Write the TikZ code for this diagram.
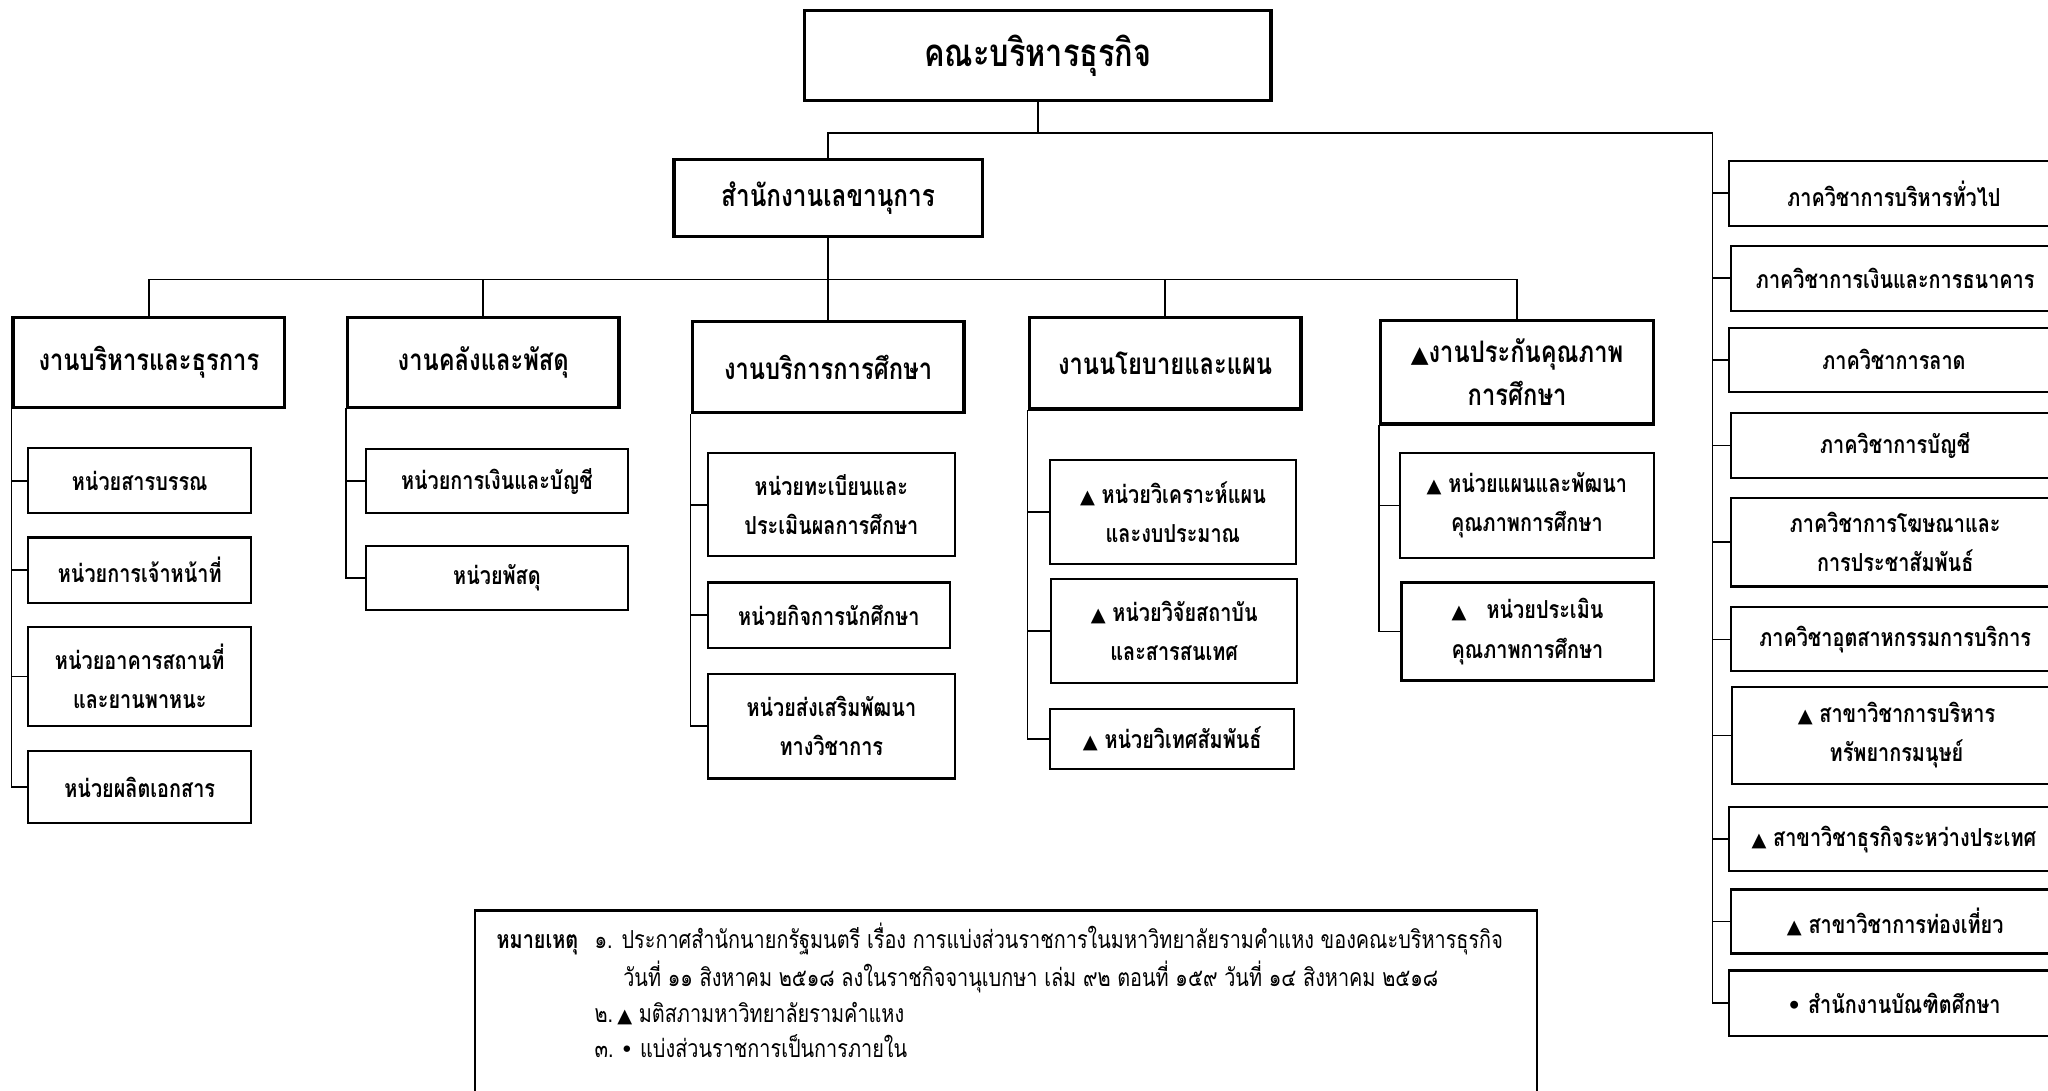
\documentclass[tikz,border=0pt]{standalone}
\usepackage{fontspec}
\usepackage{graphicx}
\setmainfont[Script=Thai,FakeStretch=0.8]{Loma}
\newfontfamily\symf{DejaVu Sans}
\newfontfamily\legf[Script=Thai,FakeStretch=0.8]{Loma}
\newcommand\mytri{{\symf\scalebox{0.78}{▲}}}
\newcommand\mybul{{\symf\scalebox{0.9}{•}}}
\tikzset{
  conn/.style={line width=1.3pt, line cap=rect},
  bigbox/.style={draw, line width=2.6pt, inner sep=0pt, align=center},
  subbox/.style={draw, line width=1.6pt, inner sep=0pt, align=center, font=\bfseries\fontsize{19}{30}\selectfont},
  lvlbox/.style={bigbox, font=\bfseries\fontsize{22.7}{33}\selectfont},
  legtext/.style={inner sep=0pt, anchor=base west, font=\legf\fontsize{19}{28}\selectfont},
}
\begin{document}
\begin{tikzpicture}[x=1pt,y=-1pt]
\useasboundingbox (0,0) rectangle (1568,835);
\clip (0,0) rectangle (1568,835);
% top levels
\node[bigbox, font=\bfseries\fontsize{29.4}{34}\selectfont, minimum width=357, minimum height=69] (top) at (794.5,42.5) {คณะบริหารธุรกิจ};
\node[bigbox, font=\bfseries\fontsize{23.3}{30}\selectfont, minimum width=236, minimum height=59] (sec) at (634,151.5) {สำนักงานเลขานุการ};
% level 2
\node[lvlbox, minimum width=208, minimum height=69] (B1) at (114,277.5) {งานบริหารและธุรการ};
\node[lvlbox, minimum width=208, minimum height=69] (B2) at (370,277.5) {งานคลังและพัสดุ};
\node[lvlbox, minimum width=208, minimum height=70] (B3) at (634,281) {งานบริการการศึกษา};
\node[lvlbox, minimum width=208, minimum height=70] (B4) at (892,278) {งานนโยบายและแผน};
\node[lvlbox, minimum width=209, minimum height=79] (B5) at (1161.5,285) {\mytri งานประกันคุณภาพ\\การศึกษา};
% units
\node[subbox, minimum width=171, minimum height=50] (S1a) at (107,368) {หน่วยสารบรรณ};
\node[subbox, minimum width=171, minimum height=50] (S1b) at (107,436.5) {หน่วยการเจ้าหน้าที่};
\node[subbox, minimum width=171, minimum height=76] (S1c) at (107,518) {หน่วยอาคารสถานที่\\และยานพาหนะ};
\node[subbox, minimum width=171, minimum height=55] (S1d) at (107,602.5) {หน่วยผลิตเอกสาร};
\node[subbox, minimum width=201, minimum height=49] (S2a) at (380.5,368.5) {หน่วยการเงินและบัญชี};
\node[subbox, minimum width=201, minimum height=49] (S2b) at (380.5,442.5) {หน่วยพัสดุ};
\node[subbox, minimum width=189, minimum height=79] (S3a) at (636.5,386.5) {หน่วยทะเบียนและ\\ประเมินผลการศึกษา};
\node[subbox, minimum width=185, minimum height=50] (S3b) at (634.5,471) {หน่วยกิจการนักศึกษา};
\node[subbox, minimum width=189, minimum height=80] (S3c) at (636.5,556) {หน่วยส่งเสริมพัฒนา\\ทางวิชาการ};
\node[subbox, minimum width=188, minimum height=80] (S4a) at (898,392) {\mytri\ หน่วยวิเคราะห์แผน\\และงบประมาณ};
\node[subbox, minimum width=188, minimum height=80] (S4b) at (899,483) {\mytri\ หน่วยวิจัยสถาบัน\\และสารสนเทศ};
\node[subbox, minimum width=187, minimum height=46] (S4c) at (897.5,566) {\mytri\ หน่วยวิเทศสัมพันธ์};
\node[subbox, minimum width=194, minimum height=80] (S5a) at (1169,387) {\mytri\ หน่วยแผนและพัฒนา\\คุณภาพการศึกษา};
\node[subbox, minimum width=193, minimum height=75] (S5b) at (1169.5,483.5) {\mytri\ \ \ หน่วยประเมิน\\คุณภาพการศึกษา};
% right column
\node[subbox, minimum width=252, minimum height=50] (R1) at (1450,148) {ภาควิชาการบริหารทั่วไป};
\node[subbox, minimum width=252, minimum height=50] (R2) at (1451,213) {ภาควิชาการเงินและการธนาคาร};
\node[subbox, minimum width=252, minimum height=49] (R3) at (1450,275.5) {ภาควิชาการลาด};
\node[subbox, minimum width=252, minimum height=50] (R4) at (1451,341) {ภาควิชาการบัญชี};
\node[subbox, minimum width=252, minimum height=68] (R5) at (1451,415) {ภาควิชาการโฆษณาและ\\การประชาสัมพันธ์};
\node[subbox, minimum width=252, minimum height=49] (R6) at (1451,489.5) {ภาควิชาอุตสาหกรรมการบริการ};
\node[subbox, minimum width=252, minimum height=74] (R7) at (1452,563) {\mytri\ สาขาวิชาการบริหาร\\ทรัพยากรมนุษย์};
\node[subbox, minimum width=252, minimum height=49] (R8) at (1450,642.5) {\mytri\ สาขาวิชาธุรกิจระหว่างประเทศ};
\node[subbox, minimum width=252, minimum height=49] (R9) at (1451,705.5) {\mytri\ สาขาวิชาการท่องเที่ยว};
\node[subbox, minimum width=252, minimum height=50] (R10) at (1450,768) {\mybul\ สำนักงานบัณฑิตศึกษา};
% connectors
\coordinate (busA) at (0,102);
\coordinate (busB) at (0,214);
\coordinate (rsp) at (1311,102);
\draw[conn] (top.south) -- (top.south |- busA);
\draw[conn] (sec.north |- busA) -- (rsp) -- (rsp |- R10.west) -- (R10.west);
\draw[conn] (sec.north |- busA) -- (sec.north);
\draw[conn] (sec.south) -- (sec.south |- B3.north);
\draw[conn] (B1.north |- busB) -- (B5.north |- busB);
\foreach \b in {B1,B2,B4,B5} \draw[conn] (\b.north |- busB) -- (\b.north);
\foreach \r in {R1,R2,R3,R4,R5,R6,R7,R8,R9} \draw[conn] (rsp |- \r.west) -- (\r.west);
\draw[conn] (B1.south west) |- (S1d.west);
\foreach \s in {S1a,S1b,S1c} \draw[conn] (B1.south west |- \s.west) -- (\s.west);
\draw[conn] (B2.south west) |- (S2b.west);
\draw[conn] (B2.south west |- S2a.west) -- (S2a.west);
\draw[conn] (B3.south west) |- (S3c.west);
\foreach \s in {S3a,S3b} \draw[conn] (B3.south west |- \s.west) -- (\s.west);
\draw[conn] (B4.south west) |- (S4c.west);
\foreach \s in {S4a,S4b} \draw[conn] (B4.south west |- \s.west) -- (\s.west);
\draw[conn] (B5.south west) |- (S5b.west);
\draw[conn] (B5.south west |- S5a.west) -- (S5a.west);
% legend
\node[draw, line width=1.6pt, minimum width=813, minimum height=170, anchor=north west, inner sep=0pt] (legend) at (363,697) {};
\draw[line width=2.4pt] (legend.north west) -- (legend.north east);
\node[legtext] (n0) at (380,726) {\bfseries หมายเหตุ};
\node[legtext] (n1) at (455,726) {๑. ประกาศสำนักนายกรัฐมนตรี เรื่อง การแบ่งส่วนราชการในมหาวิทยาลัยรามคำแหง ของคณะบริหารธุรกิจ};
\node[legtext] (n1b) at (477,755) {วันที่ ๑๑ สิงหาคม ๒๕๑๘ ลงในราชกิจจานุเบกษา เล่ม ๙๒ ตอนที่ ๑๕๙ วันที่ ๑๔ สิงหาคม ๒๕๑๘};
\node[legtext] (n2) at (455,783) {๒.\,\mytri\ มติสภามหาวิทยาลัยรามคำแหง};
\node[legtext] (n3) at (455,810) {๓.\ \mybul\ แบ่งส่วนราชการเป็นการภายใน};
\end{tikzpicture}
\end{document}
